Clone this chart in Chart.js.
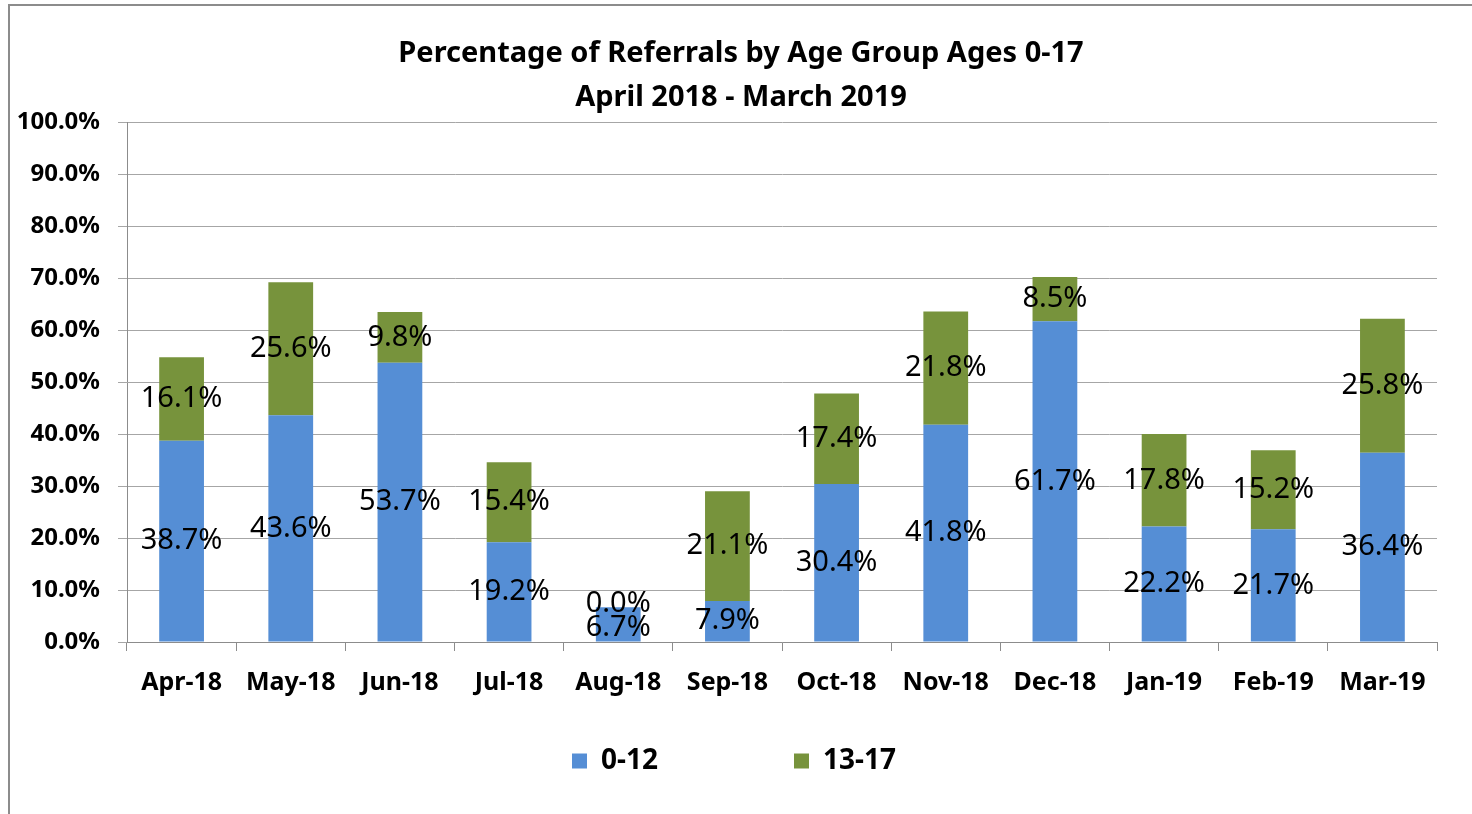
<!DOCTYPE html>
<html>
<head>
<meta charset="utf-8">
<script src="https://cdn.jsdelivr.net/npm/chart.js@4/dist/chart.umd.min.js"></script>
<style>
  html, body { margin: 0; padding: 0; background: #fff; overflow: hidden; }
  #wrap { position: relative; width: 1472px; height: 814px; }
  #frame {
    position: absolute; left: 8px; top: 4px; width: 1480px; height: 830px;
    border-left: 2px solid #8c8c8c; border-top: 2px solid #8c8c8c;
    pointer-events: none;
  }
</style>
</head>
<body>
<div id="wrap">
  <canvas id="chart" width="1472" height="814"></canvas>
  <div id="frame"></div>
</div>
<script>
// Referrals by age group, Apr 2018 - Mar 2019 (percent of total)
const months = ['Apr-18', 'May-18', 'Jun-18', 'Jul-18', 'Aug-18', 'Sep-18',
                'Oct-18', 'Nov-18', 'Dec-18', 'Jan-19', 'Feb-19', 'Mar-19'];
const ages0to12 = [38.7, 43.6, 53.7, 19.2, 6.7, 7.9, 30.4, 41.8, 61.7, 22.2, 21.7, 36.4];
const ages13to17 = [16.1, 25.6, 9.8, 15.4, 0.0, 21.1, 17.4, 21.8, 8.5, 17.8, 15.2, 25.8];
const titleLines = ['Percentage of Referrals by Age Group Ages 0-17', 'April 2018 - March 2019'];

const FONT = "'Noto Sans', 'DejaVu Sans', sans-serif";

// Draws the value labels centred in each stacked segment, nudging apart any that collide
const segmentLabels = {
    id: 'segmentLabels',
    afterDatasetsDraw(chart) {
        const ctx = chart.ctx;
        ctx.save();
        ctx.font = '29px ' + FONT;
        ctx.fillStyle = '#000';
        ctx.textAlign = 'center';
        ctx.textBaseline = 'middle';
        months.forEach((m, i) => {
            const items = [];
            chart.data.datasets.forEach((ds, d) => {
                const bar = chart.getDatasetMeta(d).data[i];
                if (!bar) return;
                items.push({ x: bar.x, y: (bar.y + bar.base) / 2, text: ds.data[i].toFixed(1) + '%' });
            });
            items.sort((a, b) => b.y - a.y);
            for (let k = 1; k < items.length; k++) {
                const gap = items[k - 1].y - items[k].y;
                if (gap < 24) {
                    const mid = (items[k - 1].y + items[k].y) / 2;
                    items[k - 1].y = mid + 12;
                    items[k].y = mid - 12;
                }
            }
            items.forEach(it => ctx.fillText(it.text, it.x, it.y));
        });
        ctx.restore();
    }
};

new Chart(document.getElementById('chart'), {
    type: 'bar',
    data: {
        labels: months,
        datasets: [{
            label: '0-12',
            data: ages0to12,
            backgroundColor: '#558ED5',
            barPercentage: 0.41,
            categoryPercentage: 1
        }, {
            label: '13-17',
            data: ages13to17,
            backgroundColor: '#77933C',
            barPercentage: 0.41,
            categoryPercentage: 1
        }]
    },
    options: {
        responsive: false,
        animation: false,
        layout: { padding: { left: 10, right: 0, top: 0, bottom: 29 } },
        plugins: {
            title: {
                display: true,
                text: titleLines,
                color: '#000',
                font: { family: FONT, size: 29, weight: 'bold', lineHeight: 1.52 },
                padding: { top: 32, bottom: 2 }
            },
            legend: {
                position: 'bottom',
                labels: {
                    color: '#000',
                    font: { family: FONT, size: 28, weight: 'bold' },
                    boxWidth: 15,
                    boxHeight: 15,
                    padding: 10,
                    generateLabels(chart) {
                        const items = Chart.defaults.plugins.legend.labels.generateLabels(chart);
                        items[0].text = items[0].text + '\u2003\u2003\u2003\u2003\u2002';
                        items[1].text = items[1].text + '\u2002';
                        return items;
                    }
                }
            },
            tooltip: { enabled: false }
        },
        scales: {
            x: {
                stacked: true,
                offset: true,
                grid: {
                    offset: true,
                    drawOnChartArea: false,
                    drawTicks: true,
                    tickLength: 9,
                    color: '#8c8c8c'
                },
                border: { color: '#8c8c8c' },
                ticks: {
                    color: '#000',
                    padding: 17,
                    maxRotation: 0,
                    font: { family: FONT, size: 25, weight: 'bold' }
                },
                afterFit(scale) { scale.height = 95; }
            },
            y: {
                stacked: true,
                min: 0,
                max: 100,
                grid: { color: '#a6a6a6', tickLength: 9 },
                border: { color: '#8c8c8c' },
                ticks: {
                    stepSize: 10,
                    color: '#000',
                    padding: 18,
                    font: { family: FONT, size: 24, weight: 'bold' },
                    callback: function(value) {
                        return Number(value).toFixed(1) + '%';
                    }
                },
                afterFit(scale) { scale.width = 117; }
            },
            // empty right-hand axis, only reserves the margin right of the plot
            spacer: {
                type: 'linear',
                position: 'right',
                display: true,
                grid: { display: false },
                border: { display: false },
                ticks: { display: false },
                afterFit(scale) { scale.width = 35; }
            }
        }
    },
    plugins: [segmentLabels]
});
</script>
</body>
</html>
